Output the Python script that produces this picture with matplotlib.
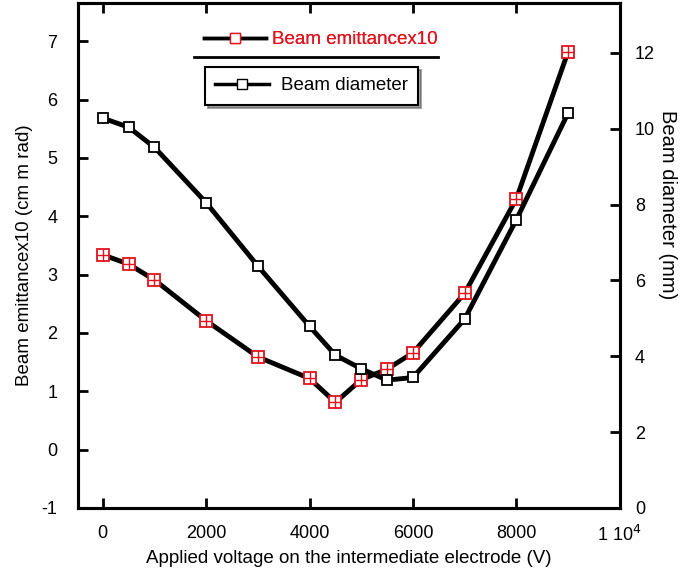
import numpy as np
import matplotlib.pyplot as plt
from matplotlib.lines import Line2D

plt.rcParams['font.family'] = ['Liberation Sans', 'DejaVu Sans']
plt.rcParams['axes.unicode_minus'] = False

# Данные
voltage = [0, 500, 1000, 2000, 3000, 4000, 4500, 5000, 5500, 6000, 7000, 8000, 9000]
emittance_x10 = [3.34, 3.18, 2.91, 2.21, 1.59, 1.22, 0.81, 1.20, 1.38, 1.66, 2.68, 4.30, 6.82]
diameter = [10.28, 10.04, 9.51, 8.05, 6.38, 4.79, 4.03, 3.67, 3.37, 3.44, 4.98, 7.60, 10.41]

x_ticks = [0, 2000, 4000, 6000, 8000, 10000]
x_tick_labels = ['0', '2000', '4000', '6000', '8000', '1 10$^4$']

red = '#e0141e'

fig = plt.figure(figsize=(6.84, 5.72), dpi=100)
ax = fig.add_axes([0.114, 0.112, 0.792, 0.883])
ax2 = ax.twinx()

# Кривая эмиттанса (левая ось)
ax.plot(voltage, emittance_x10, color='black', lw=3.5, zorder=3)
ax.plot(voltage, emittance_x10, ls='none', marker='s', ms=8, mfc='white',
        mec=red, mew=1.3, zorder=4)
ax.plot(voltage, emittance_x10, ls='none', marker='+', ms=8, mec=red,
        mew=1.0, zorder=5)

# Кривая диаметра (правая ось)
ax2.plot(voltage, diameter, color='black', lw=3.5, zorder=3)
ax2.plot(voltage, diameter, ls='none', marker='s', ms=7.5, mfc='white',
         mec='black', mew=1.3, zorder=4)

ax.set_xlim(-480, 10000)
ax.set_ylim(-1, 7.66)
ax2.set_ylim(0, 13.32)
ax.set_xticks(x_ticks)
ax.set_xticklabels(x_tick_labels)
ax.set_yticks(range(-1, 8))
ax2.set_yticks(range(0, 13, 2))

for a in (ax, ax2):
    for s in a.spines.values():
        s.set_linewidth(2.2)
ax.tick_params(direction='in', length=7, width=2, labelsize=13, top=True)
ax.tick_params(axis='x', pad=12)
ax.tick_params(axis='y', pad=15)
ax2.tick_params(direction='in', length=7, width=2, labelsize=13, pad=11)

ax.set_xlabel('Applied voltage on the intermediate electrode (V)', fontsize=13.5, labelpad=4)
ax.set_ylabel('Beam emittancex10 (cm m rad)', fontsize=13.5, labelpad=6)
lab = ax2.set_ylabel('Beam diameter (mm)', fontsize=14.5, rotation=-90)
lab.set_ha('center')
lab.set_va('center')
ax2.yaxis.set_label_coords(1.088, 0.60)

# Легенды
h1 = Line2D([], [], color='black', lw=2.5, marker='s', ms=7, mfc='white', mec=red)
h2 = Line2D([], [], color='black', lw=2.5, marker='s', ms=7, mfc='white', mec='black')
leg1 = ax.legend([h1], ['Beam emittancex10'], loc='center left', bbox_to_anchor=(0.202, 0.927),
                 frameon=False, fontsize=13.5, handlelength=3.3, handletextpad=0.3,
                 borderpad=0.4)
for t in leg1.get_texts():
    t.set_color(red)
ax.add_artist(leg1)
ax.add_line(Line2D([0.215, 0.665], [0.893, 0.893], transform=ax.transAxes,
                   color='black', lw=2))
leg2 = ax2.legend([h2], ['Beam diameter'], loc='upper left', bbox_to_anchor=(0.234, 0.873),
                  fancybox=False, shadow=True, fontsize=13.5, handlelength=2.9,
                  handletextpad=0.6, borderpad=0.55, edgecolor='black', borderaxespad=0)
leg2.get_frame().set_linewidth(1.5)

plt.savefig('out.png', dpi=100)
